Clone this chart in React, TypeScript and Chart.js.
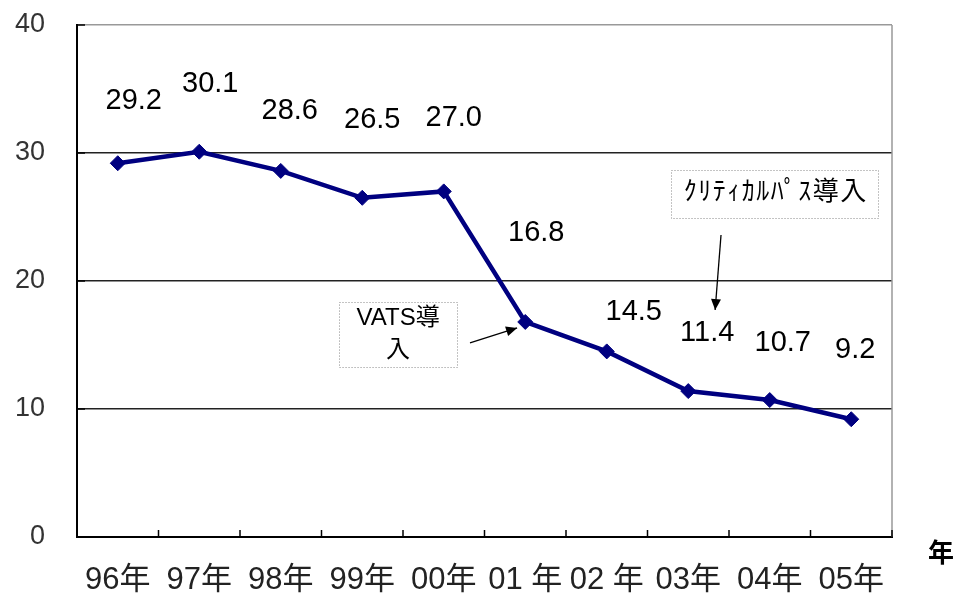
import React, { useEffect, useRef } from "react";
import { Chart, registerables } from "chart.js";

Chart.register(...registerables);

const categories = ["96年", "97年", "98年", "99年", "00年", "01 年", "02 年", "03年", "04年", "05年"];
const values = [29.2, 30.1, 28.6, 26.5, 27.0, 16.8, 14.5, 11.4, 10.7, 9.2];
const valueLabels = ["29.2", "30.1", "28.6", "26.5", "27.0", "16.8", "14.5", "11.4", "10.7", "9.2"];
const yTicks = [0, 10, 20, 30, 40];
const axisTitle = "年";
const annotationVats = ["VATS導", "入"];
const annotationPath = "ｸﾘﾃｨｶﾙﾊﾟｽ導入";

// label offsets from each point (pixels)
const labelOffsets: [number, number][] = [
  [16, -62], [11, -68], [9, -60], [10, -78], [10, -73],
  [11, -89], [27, -39], [19, -58], [13, -57], [4, -69],
];

const NUM_FONT = "'Liberation Sans', Arial, 'Noto Sans CJK JP', sans-serif";
const JP_FONT = "'Liberation Sans', 'Noto Sans CJK JP', sans-serif";

function arrow(ctx: CanvasRenderingContext2D, x1: number, y1: number, x2: number, y2: number) {
  ctx.save();
  ctx.strokeStyle = "#000";
  ctx.fillStyle = "#000";
  ctx.lineWidth = 1.3;
  ctx.beginPath();
  ctx.moveTo(x1, y1);
  ctx.lineTo(x2, y2);
  ctx.stroke();
  const a = Math.atan2(y2 - y1, x2 - x1);
  const L = 11, W = 5;
  ctx.beginPath();
  ctx.moveTo(x2, y2);
  ctx.lineTo(x2 - L * Math.cos(a) + W * Math.sin(a), y2 - L * Math.sin(a) - W * Math.cos(a));
  ctx.lineTo(x2 - L * Math.cos(a) - W * Math.sin(a), y2 - L * Math.sin(a) + W * Math.cos(a));
  ctx.closePath();
  ctx.fill();
  ctx.restore();
}

function dottedBox(ctx: CanvasRenderingContext2D, x1: number, y1: number, x2: number, y2: number) {
  ctx.save();
  ctx.fillStyle = "#fff";
  ctx.fillRect(x1, y1, x2 - x1, y2 - y1);
  ctx.strokeStyle = "#888";
  ctx.lineWidth = 1;
  ctx.setLineDash([1, 2]);
  ctx.strokeRect(Math.round(x1) + 0.5, Math.round(y1) + 0.5, x2 - x1, y2 - y1);
  ctx.restore();
}

const decorPlugin = {
  id: "decor",
  beforeDatasetsDraw(chart: any) {
    const { ctx, chartArea, scales } = chart;
    const xs = scales.x, ys = scales.y;
    ctx.save();
    ctx.strokeStyle = "#999";
    ctx.lineWidth = 1.5;
    ctx.beginPath();
    ctx.moveTo(chartArea.right, chartArea.top);
    ctx.lineTo(chartArea.right, chartArea.bottom);
    ctx.stroke();
    ctx.strokeStyle = "#000";
    ctx.lineWidth = 1.5;
    for (let i = 0; i < categories.length; i++) {
      const b = xs.getPixelForValue(i + 0.5);
      ctx.beginPath();
      ctx.moveTo(b, chartArea.bottom);
      ctx.lineTo(b, chartArea.bottom - 7);
      ctx.stroke();
    }
    for (const t of yTicks) {
      const y = ys.getPixelForValue(t);
      ctx.beginPath();
      ctx.moveTo(chartArea.left, y);
      ctx.lineTo(chartArea.left + 8, y);
      ctx.stroke();
    }
    ctx.restore();
  },
  afterDatasetsDraw(chart: any) {
    const { ctx, chartArea, scales } = chart;
    const xs = scales.x, ys = scales.y;
    const meta = chart.getDatasetMeta(0);
    ctx.save();
    ctx.fillStyle = "#000";
    ctx.font = `29px ${NUM_FONT}`;
    ctx.textAlign = "center";
    ctx.textBaseline = "middle";
    meta.data.forEach((pt: any, i: number) => {
      const [dx, dy] = labelOffsets[i];
      ctx.fillText(valueLabels[i], pt.x + dx, pt.y + dy);
    });

    const px = (v: number) => xs.getPixelForValue(v);
    const py = (v: number) => ys.getPixelForValue(v);
    dottedBox(ctx, px(2.715), py(18.36), px(4.163), py(13.28));
    ctx.font = `24px ${JP_FONT}`;
    ctx.fillStyle = "#000";
    ctx.fillText(annotationVats[0], px(3.44), py(17.11));
    ctx.fillText(annotationVats[1], px(3.44), py(14.61));
    arrow(ctx, px(4.322), py(15.16), px(4.9), py(16.33));

    dottedBox(ctx, px(6.79), py(28.67), px(9.33), py(24.92));
    ctx.font = `26px ${JP_FONT}`;
    (ctx as any).letterSpacing = "1.5px";
    ctx.fillStyle = "#000";
    ctx.fillText(annotationPath, px(8.06) + 1, py(26.875));
    (ctx as any).letterSpacing = "0px";
    arrow(ctx, px(7.402), py(23.59), px(7.33), py(17.73));

    ctx.font = `bold 26px 'Noto Sans CJK JP', sans-serif`;
    ctx.fillText(axisTitle, chartArea.right + 49, chartArea.bottom + 15);
    ctx.restore();
  },
};

export default function App() {
  const ref = useRef<HTMLCanvasElement>(null);
  useEffect(() => {
    const chart = new Chart(ref.current!, {
      type: "line",
      data: {
        labels: categories,
        datasets: [
          {
            data: values,
            borderColor: "#000080",
            backgroundColor: "#000080",
            borderWidth: 4.5,
            pointStyle: "rectRot",
            pointRadius: 7.5,
            pointBorderWidth: 1,
            pointBorderColor: "#000080",
            pointBackgroundColor: "#000080",
            tension: 0,
          },
        ],
      },
      options: {
        animation: false,
        responsive: false,
        layout: { padding: { left: 0, right: 65, top: 25, bottom: 0 } },
        plugins: { legend: { display: false }, tooltip: { enabled: false } },
        scales: {
          x: {
            offset: true,
            grid: { display: false },
            border: { display: true, color: "#000", width: 2 },
            ticks: {
              padding: 17,
              color: "#222",
              font: { size: 31, family: JP_FONT },
              maxRotation: 0,
              autoSkip: false,
            },
            afterFit: (s: any) => { s.height = 65; s.paddingLeft = 0; s.paddingRight = 0; },
          },
          y: {
            min: 0,
            max: 40,
            afterBuildTicks: (s: any) => { s.ticks = yTicks.map((v) => ({ value: v })); },
            grid: {
              drawTicks: false,
              color: (c: any) => (c.tick && c.tick.value === 40 ? "#999" : c.tick && c.tick.value === 0 ? "rgba(0,0,0,0)" : "#222"),
              lineWidth: (c: any) => (c.tick && c.tick.value === 40 ? 1.5 : 1.6),
            },
            border: { display: true, color: "#000", width: 2 },
            ticks: {
              padding: 32,
              color: "#333",
              font: { size: 27, family: NUM_FONT },
            },
            afterFit: (s: any) => { s.width = 77; s.paddingTop = 0; s.paddingBottom = 0; },
          },
        },
      },
      plugins: [decorPlugin],
    });
    return () => chart.destroy();
  }, []);
  return (
    <div style={{ position: "fixed", left: 0, top: 0, width: 957, height: 602, background: "#fff" }}>
      <canvas ref={ref} width={957} height={602} style={{ width: 957, height: 602, display: "block" }} />
    </div>
  );
}
